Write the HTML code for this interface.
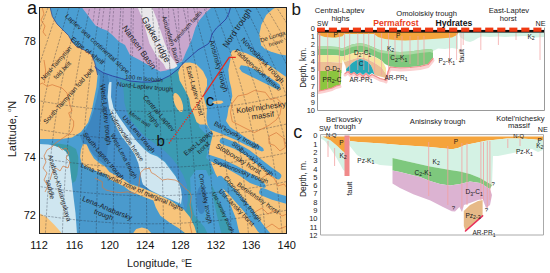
<!DOCTYPE html>
<html><head><meta charset="utf-8">
<style>
html,body{margin:0;padding:0;background:#fff;}
body{width:550px;height:273px;overflow:hidden;position:relative;font-family:"Liberation Sans",sans-serif;}
svg{position:absolute;left:0;top:0;}
text{font-family:"Liberation Sans",sans-serif;}
</style></head><body>
<svg width="550" height="273" viewBox="0 0 550 273" xmlns="http://www.w3.org/2000/svg">
<defs>
<clipPath id="mapclip"><rect x="39" y="7" width="248" height="227"/></clipPath>
</defs>
<g clip-path="url(#mapclip)">
<rect x="39" y="7" width="248" height="227" fill="#4a9ed2"/>
<path fill="#c9a7ce" d="M81.5,7.0 L212.0,7.0 L206.0,12.6 L199.4,20.2 L195.5,27.5 L192.0,38.8 L189.0,46.1 L186.1,52.0 L182.3,61.3 L176.3,64.3 L172.3,68.5 L166.2,70.4 L160.2,71.4 L152.1,67.3 L140.0,60.3 L130.0,55.0 L125.0,45.0 L119.0,41.7 L113.1,35.8 L107.3,30.7 L101.4,28.5 L95.5,25.5 L91.1,19.7 L86.7,13.8 Z" />
<path fill="#e9e7ea" d="M137.5,7.0 L152.0,7.0 L157.0,20.0 L164.9,43.5 L170.0,55.0 L175.0,62.0 L177.5,66.0 L174.0,68.5 L166.0,69.0 L163.6,64.0 L157.0,57.0 L149.5,43.5 L143.0,20.0 Z" />
<path fill="#f7c47b" d="M39.0,7.0 L49.8,7.0 L52.3,16.4 L57.0,24.0 L64.7,31.7 L68.5,35.5 L72.3,42.0 L76.0,46.0 L81.8,48.8 L87.5,51.7 L91.8,55.0 L94.7,62.6 L96.6,70.2 L97.6,75.0 L96.4,87.0 L94.0,99.0 L91.7,110.7 L88.1,122.6 L81.0,132.0 L72.0,137.5 L61.0,139.0 L39.0,139.0 Z" />
<path fill="#f7c47b" d="M277.0,7.0 L273.0,9.0 L266.2,15.0 L261.2,25.1 L259.2,35.2 L261.2,45.3 L265.0,49.0 L270.5,51.5 L279.3,54.3 L287.0,55.4 L287.0,7.0 Z" />
<path fill="#3d86c0" d="M94.5,67.0 L98.0,70.0 L103.3,73.0 L108.0,74.5 L109.0,80.0 L108.5,85.0 L107.6,97.0 L109.0,108.0 L112.0,117.0 L115.0,125.0 L119.0,135.0 L125.0,147.0 L133.0,155.0 L139.3,164.3 L143.7,176.0 L148.0,185.0 L152.0,192.0 L137.8,185.5 L130.2,182.5 L121.4,178.0 L112.6,172.5 L106.0,166.0 L100.0,161.0 L94.0,155.5 L89.6,149.6 L86.6,144.5 L83.0,143.8 L80.0,136.0 L86.0,129.0 L90.0,121.0 L93.5,110.7 L96.5,99.0 L99.0,87.0 L100.0,76.0 Z" />
<path fill="#4a9acd" d="M72.0,175.0 L80.0,162.0 L85.2,166.5 L92.6,169.5 L99.9,172.4 L105.0,174.0 L109.6,179.3 L124.3,186.6 L130.0,191.0 L144.0,196.9 L153.4,200.4 L155.8,207.5 L160.4,215.7 L169.8,222.7 L179.2,228.5 L186.2,234.0 L76.0,234.0 L75.0,213.0 L73.0,197.0 Z" />
<path fill="#cfe6f0" d="M39.0,144.0 L48.2,144.5 L55.5,146.0 L62.0,148.5 L66.5,152.0 L69.2,157.0 L70.1,165.0 L71.0,175.3 L73.5,197.0 L75.5,213.0 L77.0,234.0 L39.0,234.0 Z" />
<path fill="#3b9aa8" d="M50.0,143.5 L60.0,143.8 L70.0,145.5 L76.0,149.0 L78.3,157.0 L78.3,166.0 L77.3,175.0 L75.5,181.0 L72.5,183.0 L71.0,175.3 L70.1,165.0 L69.2,157.0 L66.5,152.0 L62.0,148.5 L55.5,146.0 Z" />
<path fill="#f7c47b" d="M39.0,213.0 L47.0,217.5 L54.5,225.0 L60.5,231.8 L62.0,234.0 L39.0,234.0 Z" />
<path fill="#3b9bb2" d="M116.0,77.5 L121.6,78.5 L130.0,81.0 L141.5,82.1 L151.0,82.0 L160.0,80.4 L169.9,75.5 L176.0,70.5 L181.0,66.0 L186.0,67.0 L192.0,80.0 L196.0,100.0 L199.0,127.0 L205.0,133.0 L212.0,137.0 L209.0,146.0 L207.0,152.0 L210.0,165.0 L214.0,175.0 L218.0,185.0 L222.0,195.0 L226.0,205.0 L230.0,215.0 L234.0,225.0 L238.0,234.0 L183.0,234.0 L184.8,209.3 L181.8,196.5 L180.4,184.8 L174.5,173.1 L165.7,161.4 L154.0,152.6 L145.0,147.4 L136.5,141.0 L128.8,130.8 L119.0,117.0 L113.5,108.0 L111.0,97.0 L111.5,84.0 Z" />
<path fill="#4590ca" d="M109.0,75.0 L116.0,77.5 L120.0,80.0 L123.0,86.0 L124.0,95.0 L124.3,102.6 L127.0,112.0 L130.2,120.0 L137.0,128.0 L145.0,136.5 L155.5,144.0 L160.0,147.5 L164.7,151.0 L172.0,158.3 L177.5,165.6 L183.0,174.8 L186.6,184.0 L187.5,190.0 L188.0,200.0 L186.0,212.0 L184.8,209.3 L181.8,196.5 L180.4,184.8 L174.5,173.1 L165.7,161.4 L154.0,152.6 L145.0,147.4 L136.5,141.0 L128.8,130.8 L119.0,117.0 L113.5,108.0 L111.0,97.0 Z" />
<path fill="#4591ca" d="M109.0,108.0 L110.5,129.0 L108.0,145.0 L106.5,159.0 L106.0,166.0 L109.6,172.0 L124.3,180.0 L130.0,184.0 L143.0,185.0 L142.0,181.7 L140.2,172.5 L138.3,163.3 L134.7,154.2 L128.3,145.0 L122.0,137.0 L117.0,128.0 L113.0,119.0 Z" />
<path fill="#cfe6f0" d="M109.5,82.0 L111.5,82.0 L111.0,97.0 L113.5,108.0 L119.0,117.0 L128.8,130.8 L136.5,141.0 L145.0,150.0 L150.0,153.7 L157.3,156.5 L164.7,162.0 L170.1,169.3 L175.6,176.6 L179.3,184.0 L181.1,190.0 L182.0,197.0 L181.0,204.0 L170.0,199.0 L160.0,195.0 L150.0,190.0 L143.0,184.4 L142.0,181.7 L140.2,172.5 L138.3,163.3 L134.7,154.2 L128.3,145.0 L122.0,137.0 L117.0,128.0 L113.0,119.0 L109.0,108.0 L107.6,97.0 L108.5,85.0 Z" />
<path fill="#f7c47b" d="M83.0,144.0 L86.7,144.6 L89.6,151.2 L94.0,158.5 L99.9,163.6 L105.0,166.5 L109.6,172.0 L124.3,180.0 L130.0,184.0 L144.0,188.7 L158.1,194.6 L172.2,201.6 L183.9,209.8 L189.7,216.8 L194.4,226.2 L196.7,234.0 L186.2,234.0 L179.2,228.5 L169.8,222.7 L160.4,215.7 L155.8,207.5 L153.4,200.4 L144.0,196.9 L130.0,191.0 L124.3,186.6 L109.6,179.3 L105.0,174.0 L99.9,172.4 L92.6,169.5 L85.2,166.5 L81.6,162.9 L80.1,157.0 L80.9,149.7 Z" />
<path fill="#f7c47b" d="M132.5,234.0 L136.2,228.9 L141.8,227.6 L147.4,228.9 L152.1,234.0 Z" />
<path fill="#f7c47b" d="M181.0,65.5 L185.0,62.7 L190.0,62.5 L196.0,64.1 L203.0,71.0 L207.0,79.2 L207.0,86.1 L204.5,92.0 L203.5,96.0 L207.0,99.0 L213.0,100.0 L218.0,106.0 L224.0,108.5 L229.0,106.0 L231.3,100.0 L232.3,96.3 L231.3,88.2 L229.3,80.2 L228.3,70.0 L230.3,60.0 L231.0,53.0 L232.5,50.5 L235.4,49.9 L246.4,53.2 L259.6,59.8 L272.7,67.5 L283.7,75.2 L287.0,77.4 L287.0,234.0 L240.0,234.0 L236.0,225.0 L232.0,215.0 L228.0,205.0 L224.0,195.0 L220.0,185.0 L216.0,175.0 L212.0,165.0 L208.5,155.0 L210.0,146.0 L212.0,138.0 L213.0,134.0 L209.8,129.5 L207.0,125.0 L205.0,124.5 L200.0,124.5 L196.5,122.0 L194.0,115.0 L190.6,106.7 L189.2,98.4 L185.1,90.2 L179.6,80.6 L178.2,72.3 Z" />
<ellipse cx="178.2" cy="102.5" rx="3.9" ry="10" transform="rotate(-20 178.2 102.5)" fill="#f7c47b"/>
<path fill="#4a9ed2" d="M239.3,68.3 L240.9,65.3 L246.0,66.0 L253.0,68.6 L266.2,75.2 L276.0,81.8 L279.5,84.5 L280.4,86.8 L278.5,89.5 L277.1,89.5 L268.4,85.0 L255.2,78.5 L242.0,71.9 Z" />
<path fill="#4a9ed2" d="M203.5,96.0 L207.0,98.0 L213.0,100.0 L224.0,100.0 L229.0,99.0 L231.0,100.0 L230.5,104.0 L228.5,108.0 L227.4,115.8 L226.0,121.0 L230.0,127.0 L236.0,131.0 L247.0,138.5 L258.0,144.5 L263.0,148.0 L264.0,150.5 L262.0,151.5 L258.0,150.0 L247.0,145.5 L236.0,140.0 L230.0,137.5 L222.0,134.0 L209.8,129.5 L207.6,125.0 L206.5,118.0 L207.0,108.0 L205.0,102.0 Z" />
<path fill="#f7c47b" d="M212.5,101.8 L218.0,100.6 L222.0,100.8 L223.5,102.2 L221.0,103.8 L216.0,104.0 L213.0,103.5 Z" />
<path d="M223.0,141.0 L236.0,146.0 L248.0,153.0 L260.0,162.5 L271.0,171.0 L278.0,176.0" fill="none" stroke="#4a9ed2" stroke-width="6.5" stroke-linecap="round" stroke-linejoin="round"/>
<path fill="#4a9ed2" d="M207.0,154.0 L222.0,159.0 L236.0,165.5 L248.0,172.0 L258.0,178.0 L265.0,184.0 L266.0,187.0 L264.0,188.0 L250.0,183.0 L240.0,176.0 L226.0,168.0 L210.0,161.0 L206.0,158.0 Z" />
<path d="M220.0,180.0 L233.0,193.0 L248.0,210.0 L261.0,229.0" fill="none" stroke="#4a9ed2" stroke-width="8" stroke-linecap="round" stroke-linejoin="round"/>
<path d="M263.0,192.0 L274.0,196.5 L290.0,201.0" fill="none" stroke="#4a9ed2" stroke-width="7.5" stroke-linecap="round" stroke-linejoin="round"/>
<path d="M258.0,224.0 L268.0,236.0" fill="none" stroke="#4a9ed2" stroke-width="7" stroke-linecap="round" stroke-linejoin="round"/>
<path d="M213.0,178.0 L219.0,190.0 L226.0,205.0 L232.0,220.0 L236.0,238.0" fill="none" stroke="#4a9ed2" stroke-width="8.5" stroke-linecap="round" stroke-linejoin="round"/>
<path fill="#4a9ed2" d="M190.1,178.0 L191.1,200.5 L194.2,215.0 L204.5,227.2 L208.6,236.0 L222.0,236.0 L216.8,215.0 L213.7,200.5 L210.6,180.0 L206.0,170.0 L196.0,170.0 Z" />
<ellipse cx="201.4" cy="200" rx="5" ry="14" fill="#3d86c0"/>
<g fill="none" stroke="#2a3040" stroke-width="0.55" stroke-dasharray="2.4,1.2" opacity="0.65"><path d="M-91.0,240.0 L-90.4,236.0 L-89.8,232.0 L-89.2,228.0 L-88.5,224.0 L-87.9,220.0 L-87.3,216.0 L-86.7,212.0 L-86.1,208.0 L-85.5,204.0 L-84.9,200.0 L-84.2,196.0 L-83.6,192.0 L-82.9,188.0 L-82.2,184.0 L-81.4,180.0 L-80.6,176.0 L-79.7,172.0 L-78.8,168.0 L-77.8,164.0 L-76.8,160.0 L-75.8,156.0 L-74.7,152.0 L-73.6,148.0 L-72.4,144.0 L-71.2,140.0 L-69.9,136.0 L-68.6,132.0 L-67.2,128.0 L-65.8,124.0 L-64.3,120.0 L-62.7,116.0 L-61.2,112.0 L-59.5,108.0 L-57.8,104.0 L-56.1,100.0 L-54.3,96.0 L-52.5,92.0 L-50.6,88.0 L-48.6,84.0 L-46.6,80.0 L-44.6,76.0 L-42.5,72.0 L-40.3,68.0 L-38.1,64.0 L-35.8,60.0 L-33.5,56.0 L-31.1,52.0 L-28.7,48.0 L-26.2,44.0 L-23.8,40.0 L-21.3,36.0 L-18.9,32.0 L-16.4,28.0 L-13.9,24.0 L-11.5,20.0 L-9.0,16.0 L-6.6,12.0 L-4.1,8.0 L-1.7,4.0 L0.8,0.0" /><path d="M-74.0,240.0 L-73.4,236.0 L-72.9,232.0 L-72.3,228.0 L-71.7,224.0 L-71.2,220.0 L-70.6,216.0 L-70.0,212.0 L-69.5,208.0 L-68.9,204.0 L-68.3,200.0 L-67.8,196.0 L-67.2,192.0 L-66.5,188.0 L-65.8,184.0 L-65.1,180.0 L-64.4,176.0 L-63.6,172.0 L-62.7,168.0 L-61.9,164.0 L-60.9,160.0 L-60.0,156.0 L-59.0,152.0 L-57.9,148.0 L-56.8,144.0 L-55.7,140.0 L-54.5,136.0 L-53.3,132.0 L-52.0,128.0 L-50.7,124.0 L-49.3,120.0 L-47.9,116.0 L-46.4,112.0 L-44.9,108.0 L-43.4,104.0 L-41.8,100.0 L-40.1,96.0 L-38.4,92.0 L-36.7,88.0 L-34.9,84.0 L-33.0,80.0 L-31.1,76.0 L-29.2,72.0 L-27.2,68.0 L-25.1,64.0 L-23.0,60.0 L-20.9,56.0 L-18.7,52.0 L-16.4,48.0 L-14.1,44.0 L-11.9,40.0 L-9.6,36.0 L-7.3,32.0 L-5.1,28.0 L-2.8,24.0 L-0.5,20.0 L1.7,16.0 L4.0,12.0 L6.3,8.0 L8.6,4.0 L10.8,0.0" /><path d="M-57.0,240.0 L-56.5,236.0 L-56.0,232.0 L-55.4,228.0 L-54.9,224.0 L-54.4,220.0 L-53.9,216.0 L-53.4,212.0 L-52.9,208.0 L-52.3,204.0 L-51.8,200.0 L-51.3,196.0 L-50.7,192.0 L-50.2,188.0 L-49.5,184.0 L-48.9,180.0 L-48.2,176.0 L-47.4,172.0 L-46.7,168.0 L-45.9,164.0 L-45.0,160.0 L-44.1,156.0 L-43.2,152.0 L-42.3,148.0 L-41.3,144.0 L-40.2,140.0 L-39.1,136.0 L-38.0,132.0 L-36.8,128.0 L-35.6,124.0 L-34.4,120.0 L-33.1,116.0 L-31.7,112.0 L-30.3,108.0 L-28.9,104.0 L-27.4,100.0 L-25.9,96.0 L-24.4,92.0 L-22.7,88.0 L-21.1,84.0 L-19.4,80.0 L-17.6,76.0 L-15.9,72.0 L-14.0,68.0 L-12.1,64.0 L-10.2,60.0 L-8.2,56.0 L-6.2,52.0 L-4.2,48.0 L-2.1,44.0 L0.0,40.0 L2.1,36.0 L4.2,32.0 L6.3,28.0 L8.4,24.0 L10.4,20.0 L12.5,16.0 L14.6,12.0 L16.7,8.0 L18.8,4.0 L20.9,0.0" /><path d="M-40.0,240.0 L-39.5,236.0 L-39.1,232.0 L-38.6,228.0 L-38.1,224.0 L-37.6,220.0 L-37.2,216.0 L-36.7,212.0 L-36.2,208.0 L-35.8,204.0 L-35.3,200.0 L-34.8,196.0 L-34.3,192.0 L-33.8,188.0 L-33.2,184.0 L-32.6,180.0 L-32.0,176.0 L-31.3,172.0 L-30.6,168.0 L-29.9,164.0 L-29.1,160.0 L-28.3,156.0 L-27.5,152.0 L-26.6,148.0 L-25.7,144.0 L-24.7,140.0 L-23.7,136.0 L-22.7,132.0 L-21.7,128.0 L-20.6,124.0 L-19.4,120.0 L-18.2,116.0 L-17.0,112.0 L-15.7,108.0 L-14.4,104.0 L-13.1,100.0 L-11.7,96.0 L-10.3,92.0 L-8.8,88.0 L-7.3,84.0 L-5.8,80.0 L-4.2,76.0 L-2.5,72.0 L-0.9,68.0 L0.8,64.0 L2.6,60.0 L4.4,56.0 L6.2,52.0 L8.1,48.0 L10.0,44.0 L11.9,40.0 L13.8,36.0 L15.7,32.0 L17.6,28.0 L19.5,24.0 L21.4,20.0 L23.3,16.0 L25.2,12.0 L27.1,8.0 L29.0,4.0 L30.9,0.0" /><path d="M-23.0,240.0 L-22.6,236.0 L-22.2,232.0 L-21.7,228.0 L-21.3,224.0 L-20.9,220.0 L-20.5,216.0 L-20.0,212.0 L-19.6,208.0 L-19.2,204.0 L-18.8,200.0 L-18.3,196.0 L-17.9,192.0 L-17.4,188.0 L-16.9,184.0 L-16.4,180.0 L-15.8,176.0 L-15.2,172.0 L-14.6,168.0 L-13.9,164.0 L-13.2,160.0 L-12.5,156.0 L-11.7,152.0 L-10.9,148.0 L-10.1,144.0 L-9.3,140.0 L-8.4,136.0 L-7.4,132.0 L-6.5,128.0 L-5.5,124.0 L-4.5,120.0 L-3.4,116.0 L-2.3,112.0 L-1.2,108.0 L0.0,104.0 L1.2,100.0 L2.5,96.0 L3.8,92.0 L5.1,88.0 L6.5,84.0 L7.8,80.0 L9.3,76.0 L10.8,72.0 L12.3,68.0 L13.8,64.0 L15.4,60.0 L17.0,56.0 L18.7,52.0 L20.4,48.0 L22.1,44.0 L23.8,40.0 L25.5,36.0 L27.2,32.0 L29.0,28.0 L30.7,24.0 L32.4,20.0 L34.1,16.0 L35.8,12.0 L37.5,8.0 L39.2,4.0 L41.0,0.0" /><path d="M-6.0,240.0 L-5.6,236.0 L-5.2,232.0 L-4.9,228.0 L-4.5,224.0 L-4.1,220.0 L-3.7,216.0 L-3.4,212.0 L-3.0,208.0 L-2.6,204.0 L-2.2,200.0 L-1.9,196.0 L-1.5,192.0 L-1.0,188.0 L-0.6,184.0 L-0.1,180.0 L0.4,176.0 L0.9,172.0 L1.5,168.0 L2.1,164.0 L2.7,160.0 L3.3,156.0 L4.0,152.0 L4.7,148.0 L5.5,144.0 L6.2,140.0 L7.0,136.0 L7.8,132.0 L8.7,128.0 L9.6,124.0 L10.5,120.0 L11.4,116.0 L12.4,112.0 L13.4,108.0 L14.5,104.0 L15.6,100.0 L16.7,96.0 L17.8,92.0 L19.0,88.0 L20.2,84.0 L21.5,80.0 L22.7,76.0 L24.1,72.0 L25.4,68.0 L26.8,64.0 L28.2,60.0 L29.7,56.0 L31.1,52.0 L32.6,48.0 L34.2,44.0 L35.7,40.0 L37.2,36.0 L38.8,32.0 L40.3,28.0 L41.8,24.0 L43.4,20.0 L44.9,16.0 L46.4,12.0 L47.9,8.0 L49.5,4.0 L51.0,0.0" /><path d="M11.0,240.0 L11.3,236.0 L11.7,232.0 L12.0,228.0 L12.3,224.0 L12.6,220.0 L13.0,216.0 L13.3,212.0 L13.6,208.0 L14.0,204.0 L14.3,200.0 L14.6,196.0 L15.0,192.0 L15.3,188.0 L15.7,184.0 L16.2,180.0 L16.6,176.0 L17.1,172.0 L17.6,168.0 L18.1,164.0 L18.6,160.0 L19.2,156.0 L19.8,152.0 L20.4,148.0 L21.0,144.0 L21.7,140.0 L22.4,136.0 L23.1,132.0 L23.9,128.0 L24.6,124.0 L25.5,120.0 L26.3,116.0 L27.1,112.0 L28.0,108.0 L29.0,104.0 L29.9,100.0 L30.9,96.0 L31.9,92.0 L32.9,88.0 L34.0,84.0 L35.1,80.0 L36.2,76.0 L37.4,72.0 L38.5,68.0 L39.8,64.0 L41.0,60.0 L42.3,56.0 L43.6,52.0 L44.9,48.0 L46.3,44.0 L47.6,40.0 L48.9,36.0 L50.3,32.0 L51.6,28.0 L53.0,24.0 L54.3,20.0 L55.7,16.0 L57.0,12.0 L58.4,8.0 L59.7,4.0 L61.0,0.0" /><path d="M28.0,240.0 L28.3,236.0 L28.6,232.0 L28.8,228.0 L29.1,224.0 L29.4,220.0 L29.7,216.0 L30.0,212.0 L30.3,208.0 L30.5,204.0 L30.8,200.0 L31.1,196.0 L31.4,192.0 L31.7,188.0 L32.1,184.0 L32.4,180.0 L32.8,176.0 L33.2,172.0 L33.6,168.0 L34.1,164.0 L34.5,160.0 L35.0,156.0 L35.5,152.0 L36.0,148.0 L36.6,144.0 L37.2,140.0 L37.8,136.0 L38.4,132.0 L39.0,128.0 L39.7,124.0 L40.4,120.0 L41.1,116.0 L41.9,112.0 L42.6,108.0 L43.4,104.0 L44.2,100.0 L45.1,96.0 L46.0,92.0 L46.8,88.0 L47.8,84.0 L48.7,80.0 L49.7,76.0 L50.7,72.0 L51.7,68.0 L52.7,64.0 L53.8,60.0 L54.9,56.0 L56.0,52.0 L57.2,48.0 L58.3,44.0 L59.5,40.0 L60.7,36.0 L61.8,32.0 L63.0,28.0 L64.1,24.0 L65.3,20.0 L66.5,16.0 L67.6,12.0 L68.8,8.0 L69.9,4.0 L71.1,0.0" /><path d="M45.0,240.0 L45.2,236.0 L45.5,232.0 L45.7,228.0 L45.9,224.0 L46.2,220.0 L46.4,216.0 L46.6,212.0 L46.9,208.0 L47.1,204.0 L47.3,200.0 L47.6,196.0 L47.8,192.0 L48.1,188.0 L48.4,184.0 L48.7,180.0 L49.0,176.0 L49.3,172.0 L49.7,168.0 L50.0,164.0 L50.4,160.0 L50.8,156.0 L51.3,152.0 L51.7,148.0 L52.2,144.0 L52.7,140.0 L53.2,136.0 L53.7,132.0 L54.2,128.0 L54.8,124.0 L55.4,120.0 L56.0,116.0 L56.6,112.0 L57.2,108.0 L57.9,104.0 L58.6,100.0 L59.3,96.0 L60.0,92.0 L60.8,88.0 L61.5,84.0 L62.3,80.0 L63.1,76.0 L64.0,72.0 L64.8,68.0 L65.7,64.0 L66.6,60.0 L67.5,56.0 L68.5,52.0 L69.4,48.0 L70.4,44.0 L71.4,40.0 L72.4,36.0 L73.3,32.0 L74.3,28.0 L75.3,24.0 L76.3,20.0 L77.2,16.0 L78.2,12.0 L79.2,8.0 L80.2,4.0 L81.1,0.0" /><path d="M62.0,240.0 L62.2,236.0 L62.4,232.0 L62.6,228.0 L62.7,224.0 L62.9,220.0 L63.1,216.0 L63.3,212.0 L63.5,208.0 L63.7,204.0 L63.9,200.0 L64.0,196.0 L64.2,192.0 L64.5,188.0 L64.7,184.0 L64.9,180.0 L65.2,176.0 L65.4,172.0 L65.7,168.0 L66.0,164.0 L66.3,160.0 L66.7,156.0 L67.0,152.0 L67.4,148.0 L67.7,144.0 L68.1,140.0 L68.5,136.0 L69.0,132.0 L69.4,128.0 L69.8,124.0 L70.3,120.0 L70.8,116.0 L71.3,112.0 L71.8,108.0 L72.4,104.0 L72.9,100.0 L73.5,96.0 L74.1,92.0 L74.7,88.0 L75.3,84.0 L75.9,80.0 L76.6,76.0 L77.3,72.0 L78.0,68.0 L78.7,64.0 L79.4,60.0 L80.2,56.0 L80.9,52.0 L81.7,48.0 L82.5,44.0 L83.3,40.0 L84.1,36.0 L84.9,32.0 L85.7,28.0 L86.4,24.0 L87.2,20.0 L88.0,16.0 L88.8,12.0 L89.6,8.0 L90.4,4.0 L91.2,0.0" /><path d="M79.0,240.0 L79.1,236.0 L79.3,232.0 L79.4,228.0 L79.6,224.0 L79.7,220.0 L79.8,216.0 L80.0,212.0 L80.1,208.0 L80.2,204.0 L80.4,200.0 L80.5,196.0 L80.7,192.0 L80.8,188.0 L81.0,184.0 L81.2,180.0 L81.4,176.0 L81.6,172.0 L81.8,168.0 L82.0,164.0 L82.3,160.0 L82.5,156.0 L82.8,152.0 L83.0,148.0 L83.3,144.0 L83.6,140.0 L83.9,136.0 L84.2,132.0 L84.6,128.0 L84.9,124.0 L85.3,120.0 L85.6,116.0 L86.0,112.0 L86.4,108.0 L86.8,104.0 L87.2,100.0 L87.7,96.0 L88.1,92.0 L88.6,88.0 L89.1,84.0 L89.6,80.0 L90.1,76.0 L90.6,72.0 L91.1,68.0 L91.7,64.0 L92.2,60.0 L92.8,56.0 L93.4,52.0 L94.0,48.0 L94.6,44.0 L95.2,40.0 L95.8,36.0 L96.4,32.0 L97.0,28.0 L97.6,24.0 L98.2,20.0 L98.8,16.0 L99.4,12.0 L100.0,8.0 L100.6,4.0 L101.2,0.0" /><path d="M96.0,240.0 L96.1,236.0 L96.2,232.0 L96.3,228.0 L96.4,224.0 L96.5,220.0 L96.5,216.0 L96.6,212.0 L96.7,208.0 L96.8,204.0 L96.9,200.0 L97.0,196.0 L97.1,192.0 L97.2,188.0 L97.3,184.0 L97.4,180.0 L97.6,176.0 L97.7,172.0 L97.8,168.0 L98.0,164.0 L98.2,160.0 L98.3,156.0 L98.5,152.0 L98.7,148.0 L98.9,144.0 L99.1,140.0 L99.3,136.0 L99.5,132.0 L99.7,128.0 L100.0,124.0 L100.2,120.0 L100.5,116.0 L100.7,112.0 L101.0,108.0 L101.3,104.0 L101.6,100.0 L101.9,96.0 L102.2,92.0 L102.5,88.0 L102.8,84.0 L103.2,80.0 L103.5,76.0 L103.9,72.0 L104.3,68.0 L104.6,64.0 L105.0,60.0 L105.4,56.0 L105.8,52.0 L106.2,48.0 L106.7,44.0 L107.1,40.0 L107.5,36.0 L107.9,32.0 L108.3,28.0 L108.7,24.0 L109.2,20.0 L109.6,16.0 L110.0,12.0 L110.4,8.0 L110.8,4.0 L111.3,0.0" /><path d="M113.0,240.0 L113.0,236.0 L113.1,232.0 L113.1,228.0 L113.2,224.0 L113.2,220.0 L113.3,216.0 L113.3,212.0 L113.4,208.0 L113.4,204.0 L113.4,200.0 L113.5,196.0 L113.5,192.0 L113.6,188.0 L113.6,184.0 L113.7,180.0 L113.8,176.0 L113.8,172.0 L113.9,168.0 L114.0,164.0 L114.1,160.0 L114.2,156.0 L114.3,152.0 L114.3,148.0 L114.5,144.0 L114.6,140.0 L114.7,136.0 L114.8,132.0 L114.9,128.0 L115.0,124.0 L115.2,120.0 L115.3,116.0 L115.5,112.0 L115.6,108.0 L115.8,104.0 L115.9,100.0 L116.1,96.0 L116.3,92.0 L116.4,88.0 L116.6,84.0 L116.8,80.0 L117.0,76.0 L117.2,72.0 L117.4,68.0 L117.6,64.0 L117.8,60.0 L118.0,56.0 L118.3,52.0 L118.5,48.0 L118.7,44.0 L119.0,40.0 L119.2,36.0 L119.4,32.0 L119.7,28.0 L119.9,24.0 L120.1,20.0 L120.4,16.0 L120.6,12.0 L120.8,8.0 L121.1,4.0 L121.3,0.0" /><path d="M130.0,240.0 L130.0,236.0 L130.0,232.0 L130.0,228.0 L130.0,224.0 L130.0,220.0 L130.0,216.0 L130.0,212.0 L130.0,208.0 L130.0,204.0 L130.0,200.0 L130.0,196.0 L130.0,192.0 L130.0,188.0 L130.0,184.0 L130.0,180.0 L130.0,176.0 L130.0,172.0 L130.0,168.0 L130.0,164.0 L130.0,160.0 L130.0,156.0 L130.0,152.0 L130.0,148.0 L130.0,144.0 L130.0,140.0 L130.1,136.0 L130.1,132.0 L130.1,128.0 L130.1,124.0 L130.1,120.0 L130.2,116.0 L130.2,112.0 L130.2,108.0 L130.2,104.0 L130.3,100.0 L130.3,96.0 L130.3,92.0 L130.3,88.0 L130.4,84.0 L130.4,80.0 L130.5,76.0 L130.5,72.0 L130.5,68.0 L130.6,64.0 L130.6,60.0 L130.7,56.0 L130.7,52.0 L130.8,48.0 L130.8,44.0 L130.9,40.0 L130.9,36.0 L131.0,32.0 L131.0,28.0 L131.1,24.0 L131.1,20.0 L131.2,16.0 L131.2,12.0 L131.3,8.0 L131.3,4.0 L131.3,0.0" /><path d="M147.0,240.0 L146.9,236.0 L146.9,232.0 L146.8,228.0 L146.8,224.0 L146.7,220.0 L146.7,216.0 L146.6,212.0 L146.6,208.0 L146.5,204.0 L146.5,200.0 L146.4,196.0 L146.4,192.0 L146.3,188.0 L146.3,184.0 L146.2,180.0 L146.2,176.0 L146.1,172.0 L146.0,168.0 L146.0,164.0 L145.9,160.0 L145.8,156.0 L145.7,152.0 L145.7,148.0 L145.6,144.0 L145.5,140.0 L145.4,136.0 L145.3,132.0 L145.3,128.0 L145.2,124.0 L145.1,120.0 L145.0,116.0 L144.9,112.0 L144.8,108.0 L144.7,104.0 L144.6,100.0 L144.5,96.0 L144.4,92.0 L144.3,88.0 L144.2,84.0 L144.0,80.0 L143.9,76.0 L143.8,72.0 L143.7,68.0 L143.6,64.0 L143.4,60.0 L143.3,56.0 L143.2,52.0 L143.0,48.0 L142.9,44.0 L142.8,40.0 L142.6,36.0 L142.5,32.0 L142.3,28.0 L142.2,24.0 L142.1,20.0 L141.9,16.0 L141.8,12.0 L141.7,8.0 L141.5,4.0 L141.4,0.0" /><path d="M164.0,240.0 L163.9,236.0 L163.8,232.0 L163.7,228.0 L163.6,224.0 L163.5,220.0 L163.4,216.0 L163.3,212.0 L163.2,208.0 L163.1,204.0 L163.0,200.0 L162.9,196.0 L162.8,192.0 L162.7,188.0 L162.6,184.0 L162.5,180.0 L162.3,176.0 L162.2,172.0 L162.1,168.0 L161.9,164.0 L161.8,160.0 L161.7,156.0 L161.5,152.0 L161.3,148.0 L161.2,144.0 L161.0,140.0 L160.8,136.0 L160.6,132.0 L160.4,128.0 L160.2,124.0 L160.0,120.0 L159.8,116.0 L159.6,112.0 L159.4,108.0 L159.2,104.0 L158.9,100.0 L158.7,96.0 L158.4,92.0 L158.2,88.0 L157.9,84.0 L157.7,80.0 L157.4,76.0 L157.1,72.0 L156.8,68.0 L156.5,64.0 L156.2,60.0 L155.9,56.0 L155.6,52.0 L155.3,48.0 L155.0,44.0 L154.6,40.0 L154.3,36.0 L154.0,32.0 L153.7,28.0 L153.4,24.0 L153.0,20.0 L152.7,16.0 L152.4,12.0 L152.1,8.0 L151.8,4.0 L151.4,0.0" /><path d="M181.0,240.0 L180.9,236.0 L180.7,232.0 L180.6,228.0 L180.4,224.0 L180.3,220.0 L180.1,216.0 L180.0,212.0 L179.8,208.0 L179.7,204.0 L179.5,200.0 L179.4,196.0 L179.2,192.0 L179.1,188.0 L178.9,184.0 L178.7,180.0 L178.5,176.0 L178.3,172.0 L178.1,168.0 L177.9,164.0 L177.7,160.0 L177.5,156.0 L177.2,152.0 L177.0,148.0 L176.7,144.0 L176.5,140.0 L176.2,136.0 L175.9,132.0 L175.6,128.0 L175.3,124.0 L175.0,120.0 L174.7,116.0 L174.3,112.0 L174.0,108.0 L173.6,104.0 L173.3,100.0 L172.9,96.0 L172.5,92.0 L172.1,88.0 L171.7,84.0 L171.3,80.0 L170.8,76.0 L170.4,72.0 L170.0,68.0 L169.5,64.0 L169.0,60.0 L168.5,56.0 L168.1,52.0 L167.6,48.0 L167.1,44.0 L166.5,40.0 L166.0,36.0 L165.5,32.0 L165.0,28.0 L164.5,24.0 L164.0,20.0 L163.5,16.0 L163.0,12.0 L162.5,8.0 L162.0,4.0 L161.5,0.0" /><path d="M198.0,240.0 L197.8,236.0 L197.6,232.0 L197.4,228.0 L197.2,224.0 L197.0,220.0 L196.8,216.0 L196.6,212.0 L196.5,208.0 L196.3,204.0 L196.1,200.0 L195.9,196.0 L195.7,192.0 L195.5,188.0 L195.2,184.0 L195.0,180.0 L194.7,176.0 L194.5,172.0 L194.2,168.0 L193.9,164.0 L193.6,160.0 L193.3,156.0 L193.0,152.0 L192.7,148.0 L192.3,144.0 L191.9,140.0 L191.6,136.0 L191.2,132.0 L190.8,128.0 L190.4,124.0 L189.9,120.0 L189.5,116.0 L189.0,112.0 L188.6,108.0 L188.1,104.0 L187.6,100.0 L187.1,96.0 L186.6,92.0 L186.0,88.0 L185.5,84.0 L184.9,80.0 L184.3,76.0 L183.7,72.0 L183.1,68.0 L182.5,64.0 L181.8,60.0 L181.2,56.0 L180.5,52.0 L179.8,48.0 L179.1,44.0 L178.4,40.0 L177.7,36.0 L177.1,32.0 L176.4,28.0 L175.7,24.0 L175.0,20.0 L174.3,16.0 L173.6,12.0 L172.9,8.0 L172.2,4.0 L171.5,0.0" /><path d="M215.0,240.0 L214.8,236.0 L214.5,232.0 L214.3,228.0 L214.0,224.0 L213.8,220.0 L213.6,216.0 L213.3,212.0 L213.1,208.0 L212.8,204.0 L212.6,200.0 L212.3,196.0 L212.1,192.0 L211.8,188.0 L211.5,184.0 L211.2,180.0 L210.9,176.0 L210.6,172.0 L210.3,168.0 L209.9,164.0 L209.5,160.0 L209.1,156.0 L208.7,152.0 L208.3,148.0 L207.9,144.0 L207.4,140.0 L207.0,136.0 L206.5,132.0 L206.0,128.0 L205.4,124.0 L204.9,120.0 L204.3,116.0 L203.8,112.0 L203.2,108.0 L202.6,104.0 L201.9,100.0 L201.3,96.0 L200.6,92.0 L199.9,88.0 L199.2,84.0 L198.5,80.0 L197.8,76.0 L197.0,72.0 L196.2,68.0 L195.4,64.0 L194.6,60.0 L193.8,56.0 L193.0,52.0 L192.1,48.0 L191.2,44.0 L190.3,40.0 L189.5,36.0 L188.6,32.0 L187.7,28.0 L186.8,24.0 L185.9,20.0 L185.1,16.0 L184.2,12.0 L183.3,8.0 L182.4,4.0 L181.6,0.0" /><path d="M232.0,240.0 L231.7,236.0 L231.4,232.0 L231.1,228.0 L230.8,224.0 L230.6,220.0 L230.3,216.0 L230.0,212.0 L229.7,208.0 L229.4,204.0 L229.1,200.0 L228.8,196.0 L228.5,192.0 L228.2,188.0 L227.9,184.0 L227.5,180.0 L227.1,176.0 L226.7,172.0 L226.3,168.0 L225.9,164.0 L225.4,160.0 L225.0,156.0 L224.5,152.0 L224.0,148.0 L223.4,144.0 L222.9,140.0 L222.3,136.0 L221.7,132.0 L221.1,128.0 L220.5,124.0 L219.9,120.0 L219.2,116.0 L218.5,112.0 L217.8,108.0 L217.0,104.0 L216.3,100.0 L215.5,96.0 L214.7,92.0 L213.9,88.0 L213.0,84.0 L212.1,80.0 L211.2,76.0 L210.3,72.0 L209.4,68.0 L208.4,64.0 L207.4,60.0 L206.4,56.0 L205.4,52.0 L204.4,48.0 L203.3,44.0 L202.2,40.0 L201.2,36.0 L200.1,32.0 L199.0,28.0 L198.0,24.0 L196.9,20.0 L195.9,16.0 L194.8,12.0 L193.7,8.0 L192.7,4.0 L191.6,0.0" /><path d="M249.0,240.0 L248.7,236.0 L248.3,232.0 L248.0,228.0 L247.7,224.0 L247.3,220.0 L247.0,216.0 L246.6,212.0 L246.3,208.0 L246.0,204.0 L245.6,200.0 L245.3,196.0 L244.9,192.0 L244.6,188.0 L244.2,184.0 L243.8,180.0 L243.3,176.0 L242.9,172.0 L242.4,168.0 L241.9,164.0 L241.4,160.0 L240.8,156.0 L240.2,152.0 L239.6,148.0 L239.0,144.0 L238.4,140.0 L237.7,136.0 L237.0,132.0 L236.3,128.0 L235.6,124.0 L234.8,120.0 L234.0,116.0 L233.2,112.0 L232.4,108.0 L231.5,104.0 L230.6,100.0 L229.7,96.0 L228.7,92.0 L227.8,88.0 L226.8,84.0 L225.8,80.0 L224.7,76.0 L223.6,72.0 L222.5,68.0 L221.4,64.0 L220.2,60.0 L219.1,56.0 L217.8,52.0 L216.6,48.0 L215.4,44.0 L214.1,40.0 L212.9,36.0 L211.6,32.0 L210.4,28.0 L209.1,24.0 L207.9,20.0 L206.6,16.0 L205.4,12.0 L204.1,8.0 L202.9,4.0 L201.7,0.0" /><path d="M266.0,240.0 L265.6,236.0 L265.2,232.0 L264.8,228.0 L264.5,224.0 L264.1,220.0 L263.7,216.0 L263.3,212.0 L262.9,208.0 L262.5,204.0 L262.2,200.0 L261.8,196.0 L261.4,192.0 L260.9,188.0 L260.5,184.0 L260.0,180.0 L259.5,176.0 L259.0,172.0 L258.4,168.0 L257.9,164.0 L257.3,160.0 L256.6,156.0 L256.0,152.0 L255.3,148.0 L254.6,144.0 L253.9,140.0 L253.1,136.0 L252.3,132.0 L251.5,128.0 L250.6,124.0 L249.8,120.0 L248.9,116.0 L247.9,112.0 L247.0,108.0 L246.0,104.0 L244.9,100.0 L243.9,96.0 L242.8,92.0 L241.7,88.0 L240.5,84.0 L239.4,80.0 L238.2,76.0 L236.9,72.0 L235.7,68.0 L234.4,64.0 L233.0,60.0 L231.7,56.0 L230.3,52.0 L228.9,48.0 L227.4,44.0 L226.0,40.0 L224.6,36.0 L223.2,32.0 L221.7,28.0 L220.3,24.0 L218.9,20.0 L217.4,16.0 L216.0,12.0 L214.6,8.0 L213.1,4.0 L211.7,0.0" /><path d="M283.0,240.0 L282.6,236.0 L282.1,232.0 L281.7,228.0 L281.3,224.0 L280.8,220.0 L280.4,216.0 L280.0,212.0 L279.6,208.0 L279.1,204.0 L278.7,200.0 L278.3,196.0 L277.8,192.0 L277.3,188.0 L276.8,184.0 L276.3,180.0 L275.7,176.0 L275.1,172.0 L274.5,168.0 L273.8,164.0 L273.2,160.0 L272.5,156.0 L271.7,152.0 L271.0,148.0 L270.2,144.0 L269.3,140.0 L268.5,136.0 L267.6,132.0 L266.7,128.0 L265.7,124.0 L264.7,120.0 L263.7,116.0 L262.6,112.0 L261.6,108.0 L260.4,104.0 L259.3,100.0 L258.1,96.0 L256.9,92.0 L255.6,88.0 L254.3,84.0 L253.0,80.0 L251.6,76.0 L250.2,72.0 L248.8,68.0 L247.3,64.0 L245.8,60.0 L244.3,56.0 L242.7,52.0 L241.1,48.0 L239.5,44.0 L237.9,40.0 L236.3,36.0 L234.7,32.0 L233.1,28.0 L231.4,24.0 L229.8,20.0 L228.2,16.0 L226.6,12.0 L225.0,8.0 L223.4,4.0 L221.7,0.0" /><path d="M300.0,240.0 L299.5,236.0 L299.0,232.0 L298.6,228.0 L298.1,224.0 L297.6,220.0 L297.1,216.0 L296.7,212.0 L296.2,208.0 L295.7,204.0 L295.2,200.0 L294.7,196.0 L294.2,192.0 L293.7,188.0 L293.1,184.0 L292.5,180.0 L291.9,176.0 L291.2,172.0 L290.6,168.0 L289.8,164.0 L289.1,160.0 L288.3,156.0 L287.5,152.0 L286.6,148.0 L285.7,144.0 L284.8,140.0 L283.9,136.0 L282.9,132.0 L281.8,128.0 L280.8,124.0 L279.7,120.0 L278.5,116.0 L277.4,112.0 L276.1,108.0 L274.9,104.0 L273.6,100.0 L272.3,96.0 L270.9,92.0 L269.5,88.0 L268.1,84.0 L266.6,80.0 L265.1,76.0 L263.5,72.0 L261.9,68.0 L260.3,64.0 L258.6,60.0 L256.9,56.0 L255.2,52.0 L253.4,48.0 L251.6,44.0 L249.8,40.0 L248.0,36.0 L246.2,32.0 L244.4,28.0 L242.6,24.0 L240.8,20.0 L239.0,16.0 L237.2,12.0 L235.4,8.0 L233.6,4.0 L231.8,0.0" /><path d="M317.0,240.0 L316.5,236.0 L315.9,232.0 L315.4,228.0 L314.9,224.0 L314.4,220.0 L313.8,216.0 L313.3,212.0 L312.8,208.0 L312.3,204.0 L311.7,200.0 L311.2,196.0 L310.7,192.0 L310.1,188.0 L309.4,184.0 L308.8,180.0 L308.1,176.0 L307.4,172.0 L306.6,168.0 L305.8,164.0 L305.0,160.0 L304.1,156.0 L303.2,152.0 L302.3,148.0 L301.3,144.0 L300.3,140.0 L299.2,136.0 L298.1,132.0 L297.0,128.0 L295.8,124.0 L294.6,120.0 L293.4,116.0 L292.1,112.0 L290.7,108.0 L289.4,104.0 L287.9,100.0 L286.5,96.0 L285.0,92.0 L283.4,88.0 L281.9,84.0 L280.2,80.0 L278.6,76.0 L276.8,72.0 L275.1,68.0 L273.3,64.0 L271.4,60.0 L269.6,56.0 L267.6,52.0 L265.7,48.0 L263.7,44.0 L261.7,40.0 L259.7,36.0 L257.7,32.0 L255.7,28.0 L253.7,24.0 L251.8,20.0 L249.8,16.0 L247.8,12.0 L245.8,8.0 L243.8,4.0 L241.8,0.0" /><path d="M334.0,240.0 L333.4,236.0 L332.9,232.0 L332.3,228.0 L331.7,224.0 L331.1,220.0 L330.6,216.0 L330.0,212.0 L329.4,208.0 L328.8,204.0 L328.3,200.0 L327.7,196.0 L327.1,192.0 L326.4,188.0 L325.8,184.0 L325.0,180.0 L324.3,176.0 L323.5,172.0 L322.7,168.0 L321.8,164.0 L320.9,160.0 L320.0,156.0 L319.0,152.0 L317.9,148.0 L316.9,144.0 L315.8,140.0 L314.6,136.0 L313.4,132.0 L312.2,128.0 L310.9,124.0 L309.6,120.0 L308.2,116.0 L306.8,112.0 L305.3,108.0 L303.8,104.0 L302.3,100.0 L300.7,96.0 L299.0,92.0 L297.4,88.0 L295.6,84.0 L293.8,80.0 L292.0,76.0 L290.1,72.0 L288.2,68.0 L286.3,64.0 L284.3,60.0 L282.2,56.0 L280.1,52.0 L277.9,48.0 L275.8,44.0 L273.6,40.0 L271.4,36.0 L269.2,32.0 L267.1,28.0 L264.9,24.0 L262.7,20.0 L260.6,16.0 L258.4,12.0 L256.2,8.0 L254.0,4.0 L251.9,0.0" /><path d="M351.0,240.0 L350.4,236.0 L349.8,232.0 L349.1,228.0 L348.5,224.0 L347.9,220.0 L347.3,216.0 L346.7,212.0 L346.0,208.0 L345.4,204.0 L344.8,200.0 L344.2,196.0 L343.5,192.0 L342.8,188.0 L342.1,184.0 L341.3,180.0 L340.5,176.0 L339.6,172.0 L338.7,168.0 L337.8,164.0 L336.8,160.0 L335.8,156.0 L334.7,152.0 L333.6,148.0 L332.4,144.0 L331.2,140.0 L330.0,136.0 L328.7,132.0 L327.4,128.0 L326.0,124.0 L324.5,120.0 L323.0,116.0 L321.5,112.0 L319.9,108.0 L318.3,104.0 L316.6,100.0 L314.9,96.0 L313.1,92.0 L311.3,88.0 L309.4,84.0 L307.5,80.0 L305.5,76.0 L303.5,72.0 L301.4,68.0 L299.2,64.0 L297.1,60.0 L294.8,56.0 L292.5,52.0 L290.2,48.0 L287.8,44.0 L285.5,40.0 L283.1,36.0 L280.8,32.0 L278.4,28.0 L276.1,24.0 L273.7,20.0 L271.3,16.0 L269.0,12.0 L266.6,8.0 L264.3,4.0 L261.9,0.0" /><path d="M368.0,240.0 L367.3,236.0 L366.7,232.0 L366.0,228.0 L365.3,224.0 L364.7,220.0 L364.0,216.0 L363.3,212.0 L362.7,208.0 L362.0,204.0 L361.3,200.0 L360.6,196.0 L359.9,192.0 L359.2,188.0 L358.4,184.0 L357.6,180.0 L356.7,176.0 L355.8,172.0 L354.8,168.0 L353.8,164.0 L352.7,160.0 L351.6,156.0 L350.5,152.0 L349.3,148.0 L348.0,144.0 L346.7,140.0 L345.4,136.0 L344.0,132.0 L342.5,128.0 L341.0,124.0 L339.5,120.0 L337.9,116.0 L336.2,112.0 L334.5,108.0 L332.8,104.0 L331.0,100.0 L329.1,96.0 L327.2,92.0 L325.2,88.0 L323.2,84.0 L321.1,80.0 L318.9,76.0 L316.8,72.0 L314.5,68.0 L312.2,64.0 L309.9,60.0 L307.4,56.0 L305.0,52.0 L302.5,48.0 L299.9,44.0 L297.4,40.0 L294.8,36.0 L292.3,32.0 L289.8,28.0 L287.2,24.0 L284.7,20.0 L282.1,16.0 L279.6,12.0 L277.0,8.0 L274.5,4.0 L272.0,0.0" /><path d="M30,98.9 L36,100.1 L42,101.3 L48,102.4 L54,103.4 L60,104.4 L66,105.3 L72,106.1 L78,106.9 L84,107.6 L90,108.3 L96,108.9 L102,109.4 L108,109.9 L114,110.3 L120,110.6 L126,110.9 L132,111.1 L138,111.3 L144,111.4 L150,111.4 L156,111.4 L162,111.3 L168,111.1 L174,110.9 L180,110.6 L186,110.3 L192,109.9 L198,109.4 L204,108.9 L210,108.3 L216,107.6 L222,106.9 L228,106.1 L234,105.3 L240,104.4 L246,103.4 L252,102.4 L258,101.3 L264,100.1 L270,98.9 L276,97.6 L282,96.2 L288,94.8 L294,93.3 L300,91.7" /><path d="M30,127.6 L36,128.7 L42,129.9 L48,130.9 L54,131.9 L60,132.8 L66,133.7 L72,134.5 L78,135.2 L84,135.9 L90,136.5 L96,137.1 L102,137.6 L108,138.1 L114,138.4 L120,138.8 L126,139.0 L132,139.2 L138,139.4 L144,139.5 L150,139.5 L156,139.5 L162,139.4 L168,139.2 L174,139.0 L180,138.8 L186,138.4 L192,138.1 L198,137.6 L204,137.1 L210,136.5 L216,135.9 L222,135.2 L228,134.5 L234,133.7 L240,132.8 L246,131.9 L252,130.9 L258,129.9 L264,128.7 L270,127.6 L276,126.3 L282,125.0 L288,123.7 L294,122.2 L300,120.8" /><path d="M30,156.2 L36,157.3 L42,158.4 L48,159.4 L54,160.3 L60,161.2 L66,162.0 L72,162.8 L78,163.5 L84,164.2 L90,164.8 L96,165.3 L102,165.8 L108,166.2 L114,166.6 L120,166.9 L126,167.1 L132,167.3 L138,167.5 L144,167.6 L150,167.6 L156,167.6 L162,167.5 L168,167.3 L174,167.1 L180,166.9 L186,166.6 L192,166.2 L198,165.8 L204,165.3 L210,164.8 L216,164.2 L222,163.5 L228,162.8 L234,162.0 L240,161.2 L246,160.3 L252,159.4 L258,158.4 L264,157.3 L270,156.2 L276,155.0 L282,153.8 L288,152.5 L294,151.1 L300,149.7" /><path d="M30,184.8 L36,185.9 L42,186.9 L48,187.8 L54,188.7 L60,189.6 L66,190.4 L72,191.1 L78,191.8 L84,192.4 L90,193.0 L96,193.5 L102,194.0 L108,194.4 L114,194.7 L120,195.0 L126,195.3 L132,195.5 L138,195.6 L144,195.7 L150,195.7 L156,195.7 L162,195.6 L168,195.5 L174,195.3 L180,195.0 L186,194.7 L192,194.4 L198,194.0 L204,193.5 L210,193.0 L216,192.4 L222,191.8 L228,191.1 L234,190.4 L240,189.6 L246,188.7 L252,187.8 L258,186.9 L264,185.9 L270,184.8 L276,183.7 L282,182.5 L288,181.2 L294,179.9 L300,178.6" /><path d="M30,213.3 L36,214.4 L42,215.3 L48,216.3 L54,217.1 L60,217.9 L66,218.7 L72,219.4 L78,220.1 L84,220.7 L90,221.2 L96,221.7 L102,222.1 L108,222.5 L114,222.9 L120,223.2 L126,223.4 L132,223.6 L138,223.7 L144,223.8 L150,223.8 L156,223.8 L162,223.7 L168,223.6 L174,223.4 L180,223.2 L186,222.9 L192,222.5 L198,222.1 L204,221.7 L210,221.2 L216,220.7 L222,220.1 L228,219.4 L234,218.7 L240,217.9 L246,217.1 L252,216.3 L258,215.3 L264,214.4 L270,213.3 L276,212.3 L282,211.1 L288,209.9 L294,208.7 L300,207.4" /><path d="M30,241.9 L36,242.8 L42,243.8 L48,244.7 L54,245.5 L60,246.3 L66,247.0 L72,247.7 L78,248.3 L84,248.9 L90,249.4 L96,249.9 L102,250.3 L108,250.7 L114,251.0 L120,251.3 L126,251.5 L132,251.7 L138,251.8 L144,251.9 L150,251.9 L156,251.9 L162,251.8 L168,251.7 L174,251.5 L180,251.3 L186,251.0 L192,250.7 L198,250.3 L204,249.9 L210,249.4 L216,248.9 L222,248.3 L228,247.7 L234,247.0 L240,246.3 L246,245.5 L252,244.7 L258,243.8 L264,242.8 L270,241.9 L276,240.8 L282,239.7 L288,238.6 L294,237.4 L300,236.1" /></g>
<clipPath id="pclip"><path d="M81.5,7 L212,7 L206,12.6 L199.4,20.2 L195.5,27.5 L192,38.8 L189,46.1 L186.1,52 L182.3,61.3 L176.3,64.3 L172.3,68.5 L166.2,70.4 L160.2,71.4 L152.1,67.3 L140,60.3 L130,55 L125,45 L119,41.7 L113.1,35.8 L107.3,30.7 L101.4,28.5 L95.5,25.5 L91.1,19.7 L86.7,13.8 Z"/></clipPath><g clip-path="url(#pclip)" fill="none" stroke="#5a4a66" stroke-width="0.6" stroke-dasharray="2.5,1.5" opacity="0.7"><path d="M95,7 L85.9,77"/><path d="M104.2,7 L95.5,77"/><path d="M113.9,7 L108.7,77"/><path d="M123.3,7 L120.7,77"/><path d="M133.5,7 L132.1,77"/><path d="M159,7 L159.0,77"/><path d="M168.5,7 L169.9,77"/><path d="M178,7 L180.8,77"/><path d="M187.5,7 L191.7,77"/><path d="M197,7 L202.6,77"/><path d="M206,7 L213.0,77"/></g>
<path d="M266,228 L272,224 L279,229 L287,226" stroke="#d9783c" stroke-width="0.7" fill="none" stroke-linejoin="round"/>
<path d="M255,212 L262,208 L268,214 L275,210 L282,216 L287,214" stroke="#d9783c" stroke-width="0.7" fill="none" stroke-linejoin="round"/>
<path d="M262,178 L268,174 L274,178 L278,186 L284,184 L287,188" stroke="#d9783c" stroke-width="0.7" fill="none" stroke-linejoin="round"/>
<path d="M269,136.3 L276.3,132.6 L283.6,138.1 L285.4,147.3 L280,151 L274.5,145.4 L269,143.6 L269,136.3" stroke="#d9783c" stroke-width="0.7" fill="none" stroke-linejoin="round"/>
<path d="M230.5,112.5 L232.3,103.3 L237.8,96 L247,94.2 L254.3,90.5 L265.3,92.3 L270.8,99.7 L276.3,97.8 L281.8,103.3 L280,114.3 L276.3,119.8 L269,125.3 L261.6,129 L254.3,132.6 L247,129 L239.7,125.3 L232.3,121.6 L230.5,112.5" stroke="#d9783c" stroke-width="0.7" fill="none" stroke-linejoin="round"/>
<path d="M95,178.2 L102.3,181.8 L102.3,187.3 L105.9,190 L113.2,191.8 L120.5,192.7 L127.7,191.8 L135,193.6 L138.6,189 L139.5,180 L140.5,172.7 L144.1,169.1 L149.5,168.2 L151.4,172.7 L155,174.5 L158.6,177.3 L162.3,180 L167.7,179.1 L175,180 L178.6,181.8 L182.3,185.5 L185.9,189 L189.5,191.8 L191.4,196.4 L190,205 L192,215 L190,225 L192,234" stroke="#d9783c" stroke-width="0.7" fill="none" stroke-linejoin="round"/>
<path d="M58,146 L62,150 L66,148 L69,153 L66,158 L70,162 L68,168 L63,166 L60,171 L56,168 L52,173 L50,180" stroke="#d9783c" stroke-width="0.7" fill="none" stroke-linejoin="round"/>
<path d="M42,7 L44,14 L41,20 L45,26 L43,32 L46,36" stroke="#d9783c" stroke-width="0.7" fill="none" stroke-linejoin="round"/>
<path d="M44,60 L45.6,70 L44.5,83" stroke="#d9783c" stroke-width="0.7" fill="none" stroke-linejoin="round"/>
<path d="M39,84.7 L42.3,83.1 L47.2,86.4 L52.2,84.7 L57.1,86.4 L62.1,88 L67,93 L68.7,99.6 L70.3,106.2 L72,111.1 L68.7,112.8 L70.3,117.7 L73.6,121 L73.6,126 L72,130.9 L68.7,134.2 L63.7,137.5 L58.8,140.8 L55,143.5 L52,147 L47,150 L44,156 L46,162 L43,168 L47,173 L44,180 L48,186 L45,192" stroke="#d9783c" stroke-width="0.7" fill="none" stroke-linejoin="round"/>
<path d="M49.8,6 L52.3,16.4 L57,24 L64.7,31.7 L68.5,35.5 L72.3,42 L76,46 L81.8,48.8 L87.5,51.7 L91.8,55 L94.7,62.6 L96.6,70.2 L97.6,75" stroke="#2b3f8a" stroke-width="0.7" fill="none"/>
<path d="M94.5,66.5 L98,69.5 L103.3,72.8 L112.5,76 L121.6,78.5 L130,81 L141.5,82.1 L151,82 L160,80.4 L169.9,75.5 L178.2,68.9 L184.8,61.5 L191.4,55.7 L198,49.9 L203.7,46.6 L207.9,44.1 L210,41.6 L212,34 L216.6,27.9 L222,23 L226,19 L229,13 L230.9,6" stroke="#2b3f9e" stroke-width="0.9" fill="none"/>
<text x="97.5" y="43.6" font-size="6.7" text-anchor="middle" dominant-baseline="central" fill="#1e1e28" transform="rotate(42.8 97.5 43.6)">Laptev sea continental slope</text>
<text x="87.6" y="50.7" font-size="6.9" text-anchor="middle" dominant-baseline="central" fill="#1e1e28" transform="rotate(38 87.6 50.7)">Edge of shelf</text>
<text x="56" y="63" font-size="6.3" text-anchor="middle" dominant-baseline="central" fill="#1e1e28" transform="rotate(-49 56 63)">Nord-Taimyrian</text>
<text x="62" y="70" font-size="6.3" text-anchor="middle" dominant-baseline="central" fill="#1e1e28" transform="rotate(-47 62 70)">fold belt</text>
<text x="68.1" y="95.8" font-size="6.5" text-anchor="middle" dominant-baseline="central" fill="#1e1e28" transform="rotate(-48.5 68.1 95.8)">South-Taimyrian fold belt</text>
<text x="139.6" y="47.3" font-size="8.3" text-anchor="middle" dominant-baseline="central" fill="#1e1e28" transform="rotate(54.3 139.6 47.3)">Nansen Basin</text>
<text x="156" y="39.5" font-size="9" text-anchor="middle" dominant-baseline="central" fill="#1e1e28" transform="rotate(61.5 156 39.5)">Gakkel ridge</text>
<text x="171.3" y="39.5" font-size="6.5" text-anchor="middle" dominant-baseline="central" fill="#1e1e28" transform="rotate(73.2 171.3 39.5)">Amundsen Basin</text>
<text x="187.5" y="26.5" font-size="5.8" text-anchor="middle" dominant-baseline="central" fill="#1e1e28" transform="rotate(-48.3 187.5 26.5)">transform faults</text>
<text x="237" y="27.9" font-size="8.5" text-anchor="middle" dominant-baseline="central" fill="#1e1e28" transform="rotate(-56.3 237 27.9)">Nord trough</text>
<text x="218.8" y="66" font-size="7.3" text-anchor="middle" dominant-baseline="central" fill="#1e1e28" transform="rotate(74.6 218.8 66)">Anisinsky trough</text>
<text x="262.8" y="60.5" font-size="7.2" text-anchor="middle" dominant-baseline="central" fill="#1e1e28" transform="rotate(46.8 262.8 60.5)">Novosibirsk trough</text>
<text x="258.2" y="69.7" font-size="6.7" text-anchor="middle" dominant-baseline="central" fill="#1e1e28" transform="rotate(41.4 258.2 69.7)">Faddeevskoe heave</text>
<text x="272.7" y="36.5" font-size="6" text-anchor="middle" dominant-baseline="central" fill="#1e1e28" transform="rotate(-18 272.7 36.5)">De Longa</text>
<text x="276" y="42.5" font-size="5.5" text-anchor="middle" dominant-baseline="central" fill="#1e1e28" transform="rotate(-18 276 42.5)">heave</text>
<text x="144" y="78.5" font-size="6" text-anchor="middle" dominant-baseline="central" fill="#1e1e28" transform="rotate(5.4 144 78.5)">100 m isobath</text>
<text x="145" y="86.4" font-size="6.5" text-anchor="middle" dominant-baseline="central" fill="#1e1e28" transform="rotate(5.3 145 86.4)">Nord-Laptev trough</text>
<text x="106" y="114.5" font-size="7" text-anchor="middle" dominant-baseline="central" fill="#1e1e28" transform="rotate(84 106 114.5)">West-Laptev trough</text>
<text x="159.1" y="113.3" font-size="6.9" text-anchor="middle" dominant-baseline="central" fill="#1e1e28" transform="rotate(49.4 159.1 113.3)">Central-Laptev</text>
<text x="153.6" y="119.6" font-size="6.9" text-anchor="middle" dominant-baseline="central" fill="#1e1e28" transform="rotate(54 153.6 119.6)">highs</text>
<text x="139.7" y="119.1" font-size="5.5" text-anchor="middle" dominant-baseline="central" fill="#1e1e28" transform="rotate(33.5 139.7 119.1)">Minin wall</text>
<text x="126.3" y="136.4" font-size="6.5" text-anchor="middle" dominant-baseline="central" fill="#1e1e28" transform="rotate(56 126.3 136.4)">Trofimovskoe heave</text>
<text x="139.1" y="133.8" font-size="6.5" text-anchor="middle" dominant-baseline="central" fill="#1e1e28" transform="rotate(49.7 139.1 133.8)">Ust-Lena trough</text>
<text x="124.3" y="156" font-size="6.3" text-anchor="middle" dominant-baseline="central" fill="#1e1e28" transform="rotate(62 124.3 156)">West-Lena trough</text>
<text x="103.9" y="156" font-size="6.6" text-anchor="middle" dominant-baseline="central" fill="#1e1e28" transform="rotate(49.6 103.9 156)">South-Laptev trough</text>
<text x="132.3" y="186.7" font-size="6.5" text-anchor="middle" dominant-baseline="central" fill="#1e1e28" transform="rotate(23.6 132.3 186.7)">Lena-Taimyrian zone of marginal highs</text>
<text x="59.9" y="187.9" font-size="6.6" text-anchor="middle" dominant-baseline="central" fill="#1e1e28" transform="rotate(74 59.9 187.9)">Anabaro-Khatangskaya</text>
<text x="50.5" y="189.2" font-size="6.8" text-anchor="middle" dominant-baseline="central" fill="#1e1e28" transform="rotate(77 50.5 189.2)">saddle</text>
<text x="107.2" y="208.2" font-size="7.3" text-anchor="middle" dominant-baseline="central" fill="#1e1e28" transform="rotate(22 107.2 208.2)">Lena-Anabarsky</text>
<text x="103.7" y="214.6" font-size="7" text-anchor="middle" dominant-baseline="central" fill="#1e1e28" transform="rotate(21 103.7 214.6)">trough</text>
<text x="195.2" y="90.7" font-size="6.5" text-anchor="middle" dominant-baseline="central" fill="#1e1e28" transform="rotate(75 195.2 90.7)">East-Laptev horst</text>
<text x="261" y="107.5" font-size="7.8" text-anchor="middle" dominant-baseline="central" fill="#1e1e28" transform="rotate(-7.8 261 107.5)">Kotel’nichesky</text>
<text x="262.8" y="115.5" font-size="7.8" text-anchor="middle" dominant-baseline="central" fill="#1e1e28" transform="rotate(-8 262.8 115.5)">massif</text>
<text x="198.2" y="142.6" font-size="6.7" text-anchor="middle" dominant-baseline="central" fill="#1e1e28" transform="rotate(-39.6 198.2 142.6)">East-Laptev</text>
<text x="203.1" y="147.5" font-size="6.5" text-anchor="middle" dominant-baseline="central" fill="#1e1e28" transform="rotate(-45 203.1 147.5)">horst</text>
<text x="237" y="135" font-size="6.5" text-anchor="middle" dominant-baseline="central" fill="#1e1e28" transform="rotate(28.6 237 135)">Bel’kovsky trough</text>
<text x="252.8" y="158.6" font-size="6.5" text-anchor="middle" dominant-baseline="central" fill="#1e1e28" transform="rotate(39 252.8 158.6)">Stolbovsky trough</text>
<text x="238.5" y="158.7" font-size="7" text-anchor="middle" dominant-baseline="central" fill="#1e1e28" transform="rotate(31.6 238.5 158.7)">Stolbovsky horst</text>
<text x="241" y="171" font-size="6.3" text-anchor="middle" dominant-baseline="central" fill="#1e1e28" transform="rotate(21 241 171)">Svyatonossky trough</text>
<text x="205.9" y="198.5" font-size="6.5" text-anchor="middle" dominant-baseline="central" fill="#1e1e28" transform="rotate(79.2 205.9 198.5)">Omoloisky trough</text>
<text x="223.5" y="212.4" font-size="5.5" text-anchor="middle" dominant-baseline="central" fill="#1e1e28" transform="rotate(64.3 223.5 212.4)">Ust-Jansky trough</text>
<text x="236.8" y="207.3" font-size="6.5" text-anchor="middle" dominant-baseline="central" fill="#1e1e28" transform="rotate(46 236.8 207.3)">Ust-Jansky horst</text>
<text x="243.1" y="198.5" font-size="6.5" text-anchor="middle" dominant-baseline="central" fill="#1e1e28" transform="rotate(51.3 243.1 198.5)">Chondonsky trough</text>
<text x="258.3" y="197.9" font-size="6.5" text-anchor="middle" dominant-baseline="central" fill="#1e1e28" transform="rotate(35.2 258.3 197.9)">Berelehskiy horst</text>
<text x="156.4" y="146.2" font-size="15" fill="#111">b</text>
<text x="205.8" y="106.2" font-size="17" fill="#111">c</text>
<path d="M235.8,57.3 L229.2,57.3 L203.2,96" stroke="#e8281c" stroke-width="1.3" fill="none"/>
<path d="M203.2,96 L168.5,144" stroke="#e8281c" stroke-width="1.3" fill="none" stroke-dasharray="1.3,1.3"/>
</g>
<rect x="39.5" y="7.5" width="247" height="226" fill="none" stroke="#222" stroke-width="1"/>
<path fill="#d4f2e4" d="M318.0,32.0 L458.0,32.0 L458.0,49.0 L452.0,48.0 L445.0,49.0 L438.0,48.5 L430.0,52.5 L318.0,52.0 Z" />
<path fill="#d4f2e4" d="M458.0,32.0 L544.0,32.0 L544.0,37.0 L535.0,37.5 L525.0,36.0 L515.0,36.5 L505.0,37.0 L498.0,36.5 L490.0,37.0 L482.0,36.5 L478.0,38.0 L474.0,40.5 L470.0,42.0 L466.0,41.0 L463.0,39.0 L460.0,37.0 Z" />
<path fill="#7ec87d" d="M318.0,46.5 L330.0,46.5 L338.0,47.0 L342.0,48.5 L346.0,47.0 L352.0,44.5 L356.0,43.8 L360.0,43.3 L364.0,43.8 L368.0,45.0 L374.0,47.5 L378.0,49.5 L382.0,50.5 L390.0,51.5 L400.0,52.0 L410.0,51.5 L420.0,50.0 L430.0,49.0 L433.0,50.0 L433.0,58.0 L428.0,64.0 L420.0,66.0 L410.0,67.0 L400.0,67.5 L390.0,66.5 L385.0,64.0 L382.0,61.0 L378.0,58.5 L374.0,56.5 L368.0,54.0 L364.0,52.5 L360.0,52.0 L356.0,52.5 L352.0,53.5 L346.0,55.5 L342.0,56.5 L338.0,55.5 L330.0,55.0 L318.0,55.0 Z" />
<path fill="#a9dba6" d="M318.0,46.5 L330.0,46.5 L338.0,47.0 L342.0,48.5 L346.0,47.0 L352.0,44.5 L356.0,43.8 L360.0,43.3 L364.0,43.8 L368.0,45.0 L374.0,47.5 L378.0,49.5 L382.0,50.5 L390.0,51.5 L400.0,52.0 L410.0,51.5 L420.0,50.0 L430.0,49.0 L433.0,50.0 L433.0,53.0 L430.0,52.0 L420.0,53.0 L410.0,54.5 L400.0,55.0 L390.0,54.0 L382.0,53.0 L378.0,52.0 L374.0,50.0 L368.0,47.5 L364.0,46.3 L360.0,45.8 L356.0,46.3 L352.0,47.0 L346.0,49.5 L342.0,51.0 L338.0,49.5 L330.0,49.0 L318.0,49.0 Z" />
<path fill="#f6e7a0" d="M318.0,55.0 L330.0,55.0 L338.0,55.5 L342.0,56.5 L346.0,55.5 L352.0,53.5 L356.0,52.5 L360.0,52.0 L364.0,52.5 L368.0,54.0 L374.0,56.5 L378.0,58.5 L382.0,61.0 L384.0,64.0 L386.0,68.0 L386.0,74.0 L384.0,71.0 L382.0,68.0 L378.0,65.0 L374.0,62.5 L368.0,59.5 L364.0,58.0 L360.0,57.5 L356.0,58.2 L352.0,59.5 L346.0,61.5 L342.0,63.0 L338.0,62.5 L330.0,62.0 L318.0,62.0 Z" />
<path fill="#ebbf95" d="M318.0,62.0 L330.0,62.0 L338.0,62.5 L342.0,63.0 L346.0,61.5 L352.0,59.5 L356.0,58.2 L360.0,57.5 L364.0,58.0 L368.0,59.5 L374.0,62.5 L378.0,65.0 L382.0,68.0 L384.0,71.0 L386.0,74.0 L386.0,78.0 L384.0,77.5 L382.0,77.0 L378.0,76.0 L374.5,75.0 L373.0,70.0 L371.0,65.5 L368.0,62.0 L364.0,60.0 L360.0,59.0 L356.0,60.5 L352.0,63.0 L350.0,65.0 L346.0,69.0 L344.0,72.0 L342.0,73.0 L338.0,71.0 L330.0,71.0 L318.0,71.0 Z" />
<path fill="#26a9b8" d="M318.0,71.0 L330.0,71.0 L338.0,71.0 L342.0,73.0 L344.0,72.0 L346.0,69.0 L350.0,65.0 L352.0,63.0 L356.0,60.5 L360.0,59.0 L364.0,60.0 L368.0,62.0 L371.0,65.5 L373.0,70.0 L374.5,75.0 L378.0,76.0 L382.0,77.0 L384.0,77.5 L386.0,78.0 L386.0,78.0 L384.0,77.5 L382.0,77.0 L378.0,76.0 L375.0,75.0 L372.0,73.0 L369.0,75.0 L366.0,72.5 L363.0,75.0 L360.0,72.5 L357.0,74.5 L354.0,72.0 L351.0,74.0 L348.0,71.0 L345.0,73.0 L342.0,72.0 L338.0,71.0 L330.0,71.0 L318.0,71.0 Z" />
<path fill="#8cc63f" d="M319.0,71.0 L330.0,71.0 L340.0,70.0 L341.5,70.0 L341.5,84.0 L340.0,85.0 L336.0,86.0 L332.0,88.0 L328.0,89.0 L324.0,90.0 L319.0,91.0 Z" />
<path fill="#ffffff" d="M340.0,95.0 L342.5,59.5 L345.5,66.0 L347.0,75.0 L346.0,95.0 Z" />
<path fill="#f5a43c" d="M318.0,32.0 L346.0,32.0 L342.4,36.3 L335.0,37.7 L324.8,37.0 L318.2,34.8 Z" />
<path fill="#f5a43c" d="M340.0,32.0 L376.0,32.0 L376.0,34.0 L360.0,34.0 L340.0,34.0 Z" />
<path fill="#f5a43c" d="M371.5,32.0 L458.5,32.0 L457.0,35.0 L452.0,37.5 L440.0,38.5 L425.0,39.5 L415.0,40.0 L405.0,40.5 L395.0,40.0 L385.0,39.0 L378.0,37.0 Z" />
<path d="M319.5,32 L319.5,92" stroke="#f08c8c" stroke-width="1.6" fill="none"/>
<path d="M327.7,33 L327.7,88" stroke="#f2a0a0" stroke-width="0.8" fill="none" opacity="0.9"/>
<path d="M339.4,33 L339.4,84" stroke="#f2a0a0" stroke-width="0.8" fill="none" opacity="0.9"/>
<path d="M344.6,33 L344.6,60" stroke="#f2a0a0" stroke-width="0.8" fill="none" opacity="0.9"/>
<path d="M349.7,33 L349.7,72" stroke="#f2a0a0" stroke-width="0.8" fill="none" opacity="0.9"/>
<path d="M357.8,33 L357.8,70" stroke="#f2a0a0" stroke-width="0.8" fill="none" opacity="0.9"/>
<path d="M363.8,33 L363.8,70" stroke="#f2a0a0" stroke-width="0.8" fill="none" opacity="0.9"/>
<path d="M368.7,33 L368.7,72" stroke="#f2a0a0" stroke-width="0.8" fill="none" opacity="0.9"/>
<path d="M374.6,33 L374.6,73" stroke="#f2a0a0" stroke-width="0.8" fill="none" opacity="0.9"/>
<path d="M381.6,33 L381.6,75" stroke="#f2a0a0" stroke-width="0.8" fill="none" opacity="0.9"/>
<path d="M388.5,33 L388.5,76" stroke="#f2a0a0" stroke-width="0.8" fill="none" opacity="0.9"/>
<path d="M395,36 L395,60" stroke="#f2a0a0" stroke-width="0.8" fill="none" opacity="0.9"/>
<path d="M402,36 L402,62" stroke="#f2a0a0" stroke-width="0.8" fill="none" opacity="0.9"/>
<path d="M410,36 L410,64" stroke="#f2a0a0" stroke-width="0.8" fill="none" opacity="0.9"/>
<path d="M418,36 L418,65" stroke="#f2a0a0" stroke-width="0.8" fill="none" opacity="0.9"/>
<path d="M424,36 L424,66" stroke="#f2a0a0" stroke-width="0.8" fill="none" opacity="0.9"/>
<path d="M449.5,33 L449.5,65" stroke="#f2a0a0" stroke-width="0.8" fill="none" opacity="0.9"/>
<path d="M456.6,33 L456.6,60" stroke="#f2a0a0" stroke-width="0.8" fill="none" opacity="0.9"/>
<path d="M461,33 L461,52" stroke="#f2a0a0" stroke-width="0.8" fill="none" opacity="0.9"/>
<path d="M463.2,33 L463.2,45" stroke="#f2a0a0" stroke-width="0.8" fill="none" opacity="0.9"/>
<path d="M480.8,33 L480.8,50" stroke="#f2a0a0" stroke-width="0.8" fill="none" opacity="0.9"/>
<path d="M498.4,33 L498.4,45" stroke="#f2a0a0" stroke-width="0.8" fill="none" opacity="0.9"/>
<path d="M516,33 L516,40" stroke="#f2a0a0" stroke-width="0.8" fill="none" opacity="0.9"/>
<path d="M540,33 L540,60" stroke="#f2a0a0" stroke-width="0.8" fill="none" opacity="0.9"/>
<path d="M319.0,92.5 L324.0,91.5 L328.0,90.5 L332.0,89.5 L336.0,87.5 L340.0,86.5" fill="none" stroke="#fbd0d0" stroke-width="3" stroke-linecap="round" stroke-linejoin="round"/>
<path d="M345.0,75.0 L348.0,73.0 L351.0,76.0 L354.0,74.0 L357.0,77.0 L360.0,75.0 L363.0,78.0 L366.0,75.0 L369.0,78.0 L372.0,76.0 L376.0,78.0 L380.0,80.0 L384.0,81.0 L386.0,82.0 L388.0,74.0 L390.0,69.0 L400.0,70.0 L410.0,69.5 L420.0,68.5 L428.0,66.5 L433.0,60.5" fill="none" stroke="#fbd0d0" stroke-width="3" stroke-linecap="round" stroke-linejoin="round"/>
<path d="M319.0,91.0 L324.0,90.0 L328.0,89.0 L332.0,88.0 L336.0,86.0 L340.0,85.0" fill="none" stroke="#f28a8a" stroke-width="1.2" stroke-linecap="round" stroke-linejoin="round"/>
<path d="M345.0,73.5 L348.0,71.5 L351.0,74.5 L354.0,72.5 L357.0,75.5 L360.0,73.5 L363.0,76.5 L366.0,73.5 L369.0,76.5 L372.0,74.5 L376.0,76.5 L380.0,78.5 L384.0,79.5 L386.0,80.5 L388.0,72.0 L390.0,67.0 L400.0,68.0 L410.0,67.5 L420.0,66.5 L428.0,64.5 L433.0,58.5" fill="none" stroke="#f28a8a" stroke-width="1.2" stroke-linecap="round" stroke-linejoin="round"/>
<rect x="317" y="29.6" width="227.7" height="3" fill="#111"/>
<rect x="317" y="27.6" width="227.7" height="2.2" fill="#fff"/>
<rect x="317.00" y="27.6" width="7.90" height="4.2" fill="#f03a12"/>
<rect x="328.83" y="27.6" width="8.10" height="4.2" fill="#f03a12"/>
<rect x="340.86" y="27.6" width="8.10" height="4.2" fill="#f03a12"/>
<rect x="352.89" y="27.6" width="8.10" height="4.2" fill="#f03a12"/>
<rect x="364.92" y="27.6" width="8.10" height="4.2" fill="#f03a12"/>
<rect x="376.95" y="27.6" width="8.10" height="4.2" fill="#f03a12"/>
<rect x="388.98" y="27.6" width="8.10" height="4.2" fill="#f03a12"/>
<rect x="401.01" y="27.6" width="8.10" height="4.2" fill="#f03a12"/>
<rect x="413.04" y="27.6" width="8.10" height="4.2" fill="#f03a12"/>
<rect x="425.07" y="27.6" width="8.10" height="4.2" fill="#f03a12"/>
<rect x="437.10" y="27.6" width="8.10" height="4.2" fill="#f03a12"/>
<rect x="449.13" y="27.6" width="8.10" height="4.2" fill="#f03a12"/>
<rect x="461.16" y="27.6" width="8.10" height="4.2" fill="#f03a12"/>
<rect x="473.19" y="27.6" width="8.10" height="4.2" fill="#f03a12"/>
<rect x="485.22" y="27.6" width="8.10" height="4.2" fill="#f03a12"/>
<rect x="497.25" y="27.6" width="8.10" height="4.2" fill="#f03a12"/>
<rect x="509.28" y="27.6" width="8.10" height="4.2" fill="#f03a12"/>
<rect x="521.31" y="27.6" width="8.10" height="4.2" fill="#f03a12"/>
<rect x="533.34" y="27.6" width="8.10" height="4.2" fill="#f03a12"/>
<path d="M317.5,32 L317.5,110.5 L544.5,110.5 L544.5,27.6" stroke="#999" stroke-width="1" fill="none"/>
<path fill="#f5a43c" d="M349.0,136.5 L543.0,136.5 L543.0,140.4 L535.0,139.5 L525.0,138.8 L515.0,138.5 L507.0,138.5 L500.0,139.2 L486.0,140.7 L475.0,143.0 L465.0,145.0 L458.0,148.0 L452.0,149.3 L445.0,148.5 L430.0,147.0 L415.0,146.0 L400.0,145.0 L385.0,143.8 L370.0,142.8 L358.0,142.0 L350.0,141.0 Z" />
<path fill="#d4f2e4" d="M321.0,136.5 L324.0,136.5 L330.4,140.3 L336.8,145.4 L342.0,150.5 L347.0,154.4 L347.0,172.0 L343.2,170.0 L340.0,164.0 L336.0,157.0 L330.0,148.0 L325.0,141.0 L321.0,138.5 Z" />
<path fill="#f5a43c" d="M322.7,136.5 L347.0,136.5 L347.0,154.4 L342.0,150.5 L336.8,145.4 L330.4,140.3 Z" />
<path fill="#d4f2e4" d="M349.0,141.0 L350.0,141.0 L358.0,142.0 L370.0,142.8 L385.0,143.8 L400.0,145.0 L415.0,146.0 L430.0,147.0 L445.0,148.5 L452.0,149.3 L458.0,148.0 L465.0,145.0 L475.0,143.0 L486.0,140.7 L500.0,139.2 L507.0,138.5 L515.0,138.5 L525.0,138.8 L535.0,139.5 L543.0,140.4 L543.0,150.0 L538.0,152.0 L532.0,149.0 L526.0,149.0 L518.0,152.0 L508.0,154.0 L498.0,156.0 L493.0,156.0 L492.0,185.0 L480.0,178.0 L470.0,174.0 L460.0,171.5 L450.0,170.0 L430.0,166.5 L410.0,162.0 L392.5,158.0 L392.5,166.0 L380.0,165.0 L365.0,160.0 L357.0,155.0 L349.0,145.0 Z" />
<path fill="#7ec87d" d="M392.5,158.0 L410.0,162.0 L430.0,166.5 L450.0,170.0 L460.0,171.5 L470.0,174.0 L480.0,178.0 L492.0,185.0 L490.0,189.0 L480.0,183.0 L470.0,181.5 L460.0,184.0 L450.0,185.6 L440.0,184.0 L430.0,181.0 L420.0,177.0 L400.0,172.0 L392.5,170.6 Z" />
<path fill="#dcb3d2" d="M392.5,170.6 L400.0,172.0 L420.0,177.0 L430.0,181.0 L440.0,184.0 L450.0,185.6 L460.0,184.0 L470.0,181.5 L480.0,183.0 L490.0,189.0 L492.0,195.0 L490.0,205.0 L486.0,208.0 L482.6,199.0 L478.0,200.0 L470.0,203.0 L464.0,205.0 L462.0,212.0 L459.4,207.0 L455.0,211.5 L451.7,211.3 L443.0,207.0 L430.4,200.6 L413.3,194.2 L400.0,188.0 L392.5,183.5 Z" />
<path fill="#e6b987" d="M463.8,211.0 L470.0,205.0 L478.0,201.0 L482.6,200.0 L482.6,215.8 L465.5,231.0 L463.8,226.0 Z" />
<path d="M465.5,231.0 L482.6,215.8" fill="none" stroke="#e8305a" stroke-width="1.6" stroke-linecap="round" stroke-linejoin="round"/>
<rect x="344.5" y="135.5" width="5" height="40.5" fill="#f08a8a"/>
<path d="M328,141 L328,157" stroke="#f2a0a0" stroke-width="0.8" fill="none"/>
<path d="M334.6,148 L334.6,166" stroke="#f2a0a0" stroke-width="0.8" fill="none"/>
<path d="M428.7,142 L428.7,196" stroke="#f2a0a0" stroke-width="0.8" fill="none"/>
<path d="M447.8,146 L447.8,205" stroke="#f2a0a0" stroke-width="0.8" fill="none"/>
<path d="M461.9,143 L461.9,208" stroke="#f2a0a0" stroke-width="0.8" fill="none"/>
<path d="M467,143 L467,205" stroke="#f2a0a0" stroke-width="0.8" fill="none"/>
<path d="M480.9,142 L480.9,200" stroke="#f2a0a0" stroke-width="0.8" fill="none"/>
<path d="M483.5,142 L483.5,200" stroke="#f2a0a0" stroke-width="0.8" fill="none"/>
<path d="M487.3,141 L487.3,208" stroke="#f2a0a0" stroke-width="0.8" fill="none"/>
<path d="M489.9,141 L489.9,200" stroke="#f2a0a0" stroke-width="0.8" fill="none"/>
<path d="M507.8,139 L507.8,148" stroke="#f2a0a0" stroke-width="0.8" fill="none"/>
<path d="M520,139 L520,146" stroke="#f2a0a0" stroke-width="0.8" fill="none"/>
<path d="M320.5,134.6 L543.5,134.6 L543.5,235 L320.5,235 Z" stroke="#aaa" stroke-width="1" fill="none"/>
<text x="291.5" y="14.7" font-size="17" text-anchor="start" fill="#1a1a1a">b</text>
<text x="339.7" y="12.9" font-size="7.6" text-anchor="middle" fill="#1a1a1a">Central-Laptev</text>
<text x="340.5" y="20.6" font-size="7.6" text-anchor="middle" fill="#1a1a1a">highs</text>
<text x="426.7" y="15.5" font-size="7.6" text-anchor="middle" fill="#1a1a1a">Omoloiskiy trough</text>
<text x="508.9" y="13.3" font-size="7.6" text-anchor="middle" fill="#1a1a1a">East-Laptev</text>
<text x="508.3" y="21.0" font-size="7.6" text-anchor="middle" fill="#1a1a1a">horst</text>
<text x="317.1" y="25.8" font-size="6.8" text-anchor="start" fill="#1a1a1a">SW</text>
<text x="535.6" y="25.6" font-size="7.2" text-anchor="start" fill="#1a1a1a">NE</text>
<text x="373.2" y="26.2" font-size="8.6" text-anchor="start" fill="#e8401c" font-weight="bold">Permafrost</text>
<text x="435.5" y="26.2" font-size="8.6" text-anchor="start" fill="#111" font-weight="bold">Hydrates</text>
<text x="315" y="30.9" font-size="7.5" text-anchor="end" fill="#1a1a1a">0</text>
<text x="315" y="39.14" font-size="7.5" text-anchor="end" fill="#1a1a1a">1</text>
<text x="315" y="47.38" font-size="7.5" text-anchor="end" fill="#1a1a1a">2</text>
<text x="315" y="55.620000000000005" font-size="7.5" text-anchor="end" fill="#1a1a1a">3</text>
<text x="315" y="63.86" font-size="7.5" text-anchor="end" fill="#1a1a1a">4</text>
<text x="315" y="72.10000000000001" font-size="7.5" text-anchor="end" fill="#1a1a1a">5</text>
<text x="315" y="80.34" font-size="7.5" text-anchor="end" fill="#1a1a1a">6</text>
<text x="315" y="88.58" font-size="7.5" text-anchor="end" fill="#1a1a1a">7</text>
<text x="315" y="96.82000000000001" font-size="7.5" text-anchor="end" fill="#1a1a1a">8</text>
<text x="315" y="105.06" font-size="7.5" text-anchor="end" fill="#1a1a1a">9</text>
<text x="315" y="113.30000000000001" font-size="7.5" text-anchor="end" fill="#1a1a1a">10</text>
<text x="305.6" y="67.7" font-size="8.3" text-anchor="middle" fill="#1a1a1a" transform="rotate(-90 305.6 67.7)">Depth, km.</text>
<text x="333.4" y="37.3" font-size="6.5" text-anchor="start" fill="#1a1a1a">P</text>
<text x="396" y="38.4" font-size="6.5" text-anchor="start" fill="#1a1a1a">P</text>
<text x="387" y="50.5" font-size="6.5" text-anchor="start" fill="#1a1a1a">K<tspan font-size="5.2" dy="1.6">2</tspan><tspan dy="-1.6"></tspan></text>
<text x="390.3" y="60.3" font-size="6.5" text-anchor="start" fill="#1a1a1a">C<tspan font-size="5.2" dy="1.6">2</tspan><tspan dy="-1.6">-K</tspan><tspan font-size="5.2" dy="1.6">1</tspan></text>
<text x="353.9" y="55.2" font-size="6.5" text-anchor="start" fill="#1a1a1a">D<tspan font-size="5.2" dy="1.6">2</tspan><tspan dy="-1.6">-C</tspan><tspan font-size="5.2" dy="1.6">1</tspan></text>
<text x="358.8" y="66.3" font-size="6.5" text-anchor="start" fill="#1a1a1a">C</text>
<text x="325" y="70.8" font-size="6.5" text-anchor="start" fill="#1a1a1a">O-D<tspan font-size="5.2" dy="1.6">2</tspan><tspan dy="-1.6"></tspan></text>
<text x="322.6" y="81.8" font-size="6.5" text-anchor="start" fill="#1a1a1a">PR<tspan font-size="5.2" dy="1.6">2</tspan><tspan dy="-1.6">-C</tspan></text>
<text x="349.4" y="81.5" font-size="6.5" text-anchor="start" fill="#1a1a1a">AR-PR<tspan font-size="5.2" dy="1.6">1</tspan><tspan dy="-1.6"></tspan></text>
<text x="384.5" y="79.5" font-size="6.5" text-anchor="start" fill="#1a1a1a">AR-PR<tspan font-size="5.2" dy="1.6">1</tspan><tspan dy="-1.6"></tspan></text>
<text x="438.5" y="63.3" font-size="6.5" text-anchor="start" fill="#1a1a1a">P<tspan font-size="5.2" dy="1.6">2</tspan><tspan dy="-1.6">-K</tspan><tspan font-size="5.2" dy="1.6">1</tspan></text>
<text x="464.3" y="55.9" font-size="7.2" text-anchor="middle" fill="#1a1a1a" transform="rotate(-90 464.3 55.9)">fault</text>
<text x="527.4" y="38.5" font-size="6.5" text-anchor="start" fill="#1a1a1a">K<tspan font-size="5.2" dy="1.6">2</tspan><tspan dy="-1.6"></tspan></text>
<text x="293.3" y="137.8" font-size="18" text-anchor="start" fill="#1a1a1a">c</text>
<text x="344" y="121.8" font-size="7.6" text-anchor="middle" fill="#1a1a1a">Bel’kovsky</text>
<text x="345" y="129.3" font-size="7.6" text-anchor="middle" fill="#1a1a1a">trough</text>
<text x="437.7" y="124.4" font-size="7.6" text-anchor="middle" fill="#1a1a1a">Anisinsky trough</text>
<text x="520.4" y="120.6" font-size="7.6" text-anchor="middle" fill="#1a1a1a">Kotel’nichesky</text>
<text x="518.9" y="128.3" font-size="7.6" text-anchor="middle" fill="#1a1a1a">massif</text>
<text x="319" y="131.3" font-size="7.2" text-anchor="start" fill="#1a1a1a">SW</text>
<text x="537.8" y="131.6" font-size="7.2" text-anchor="start" fill="#1a1a1a">NE</text>
<text x="317.5" y="138.29999999999998" font-size="7.5" text-anchor="end" fill="#1a1a1a">0</text>
<text x="317.5" y="146.6" font-size="7.5" text-anchor="end" fill="#1a1a1a">1</text>
<text x="317.5" y="154.89999999999998" font-size="7.5" text-anchor="end" fill="#1a1a1a">2</text>
<text x="317.5" y="163.2" font-size="7.5" text-anchor="end" fill="#1a1a1a">3</text>
<text x="317.5" y="171.5" font-size="7.5" text-anchor="end" fill="#1a1a1a">4</text>
<text x="317.5" y="179.79999999999998" font-size="7.5" text-anchor="end" fill="#1a1a1a">5</text>
<text x="317.5" y="188.1" font-size="7.5" text-anchor="end" fill="#1a1a1a">6</text>
<text x="317.5" y="196.39999999999998" font-size="7.5" text-anchor="end" fill="#1a1a1a">7</text>
<text x="317.5" y="204.7" font-size="7.5" text-anchor="end" fill="#1a1a1a">8</text>
<text x="317.5" y="213.0" font-size="7.5" text-anchor="end" fill="#1a1a1a">9</text>
<text x="317.5" y="221.29999999999998" font-size="7.5" text-anchor="end" fill="#1a1a1a">10</text>
<text x="317.5" y="229.6" font-size="7.5" text-anchor="end" fill="#1a1a1a">11</text>
<text x="317.5" y="237.89999999999998" font-size="7.5" text-anchor="end" fill="#1a1a1a">12</text>
<text x="306.1" y="178.8" font-size="8.4" text-anchor="middle" fill="#1a1a1a" transform="rotate(-90 306.1 178.8)">Depth, m.</text>
<text x="326" y="136.6" font-size="5.8" text-anchor="start" fill="#1a1a1a">N-Q</text>
<text x="513.3" y="137.7" font-size="5.8" text-anchor="start" fill="#1a1a1a">N-Q</text>
<text x="339.3" y="144.6" font-size="6.5" text-anchor="start" fill="#1a1a1a">P</text>
<text x="453.8" y="144.3" font-size="6.5" text-anchor="start" fill="#1a1a1a">P</text>
<text x="537.5" y="143.2" font-size="6.5" text-anchor="start" fill="#1a1a1a">P</text>
<text x="339.4" y="157.8" font-size="6.5" text-anchor="start" fill="#1a1a1a">K<tspan font-size="5.2" dy="1.6">2</tspan><tspan dy="-1.6"></tspan></text>
<text x="432.6" y="163.6" font-size="6.5" text-anchor="start" fill="#1a1a1a">K<tspan font-size="5.2" dy="1.6">2</tspan><tspan dy="-1.6"></tspan></text>
<text x="536.2" y="147.6" font-size="6.5" text-anchor="start" fill="#1a1a1a">K<tspan font-size="5.2" dy="1.6">2</tspan><tspan dy="-1.6"></tspan></text>
<text x="357.3" y="162.6" font-size="6.5" text-anchor="start" fill="#1a1a1a">Pz-K<tspan font-size="5.2" dy="1.6">1</tspan><tspan dy="-1.6"></tspan></text>
<text x="515.9" y="154.3" font-size="6.5" text-anchor="start" fill="#1a1a1a">Pz-K<tspan font-size="5.2" dy="1.6">1</tspan><tspan dy="-1.6"></tspan></text>
<text x="414.6" y="174.5" font-size="6.5" text-anchor="start" fill="#1a1a1a">C<tspan font-size="5.2" dy="1.6">2</tspan><tspan dy="-1.6">-K</tspan><tspan font-size="5.2" dy="1.6">1</tspan></text>
<text x="465.5" y="194.2" font-size="6.5" text-anchor="start" fill="#1a1a1a">D<tspan font-size="5.2" dy="1.6">3</tspan><tspan dy="-1.6">-C</tspan><tspan font-size="5.2" dy="1.6">1</tspan></text>
<text x="465.5" y="217.6" font-size="6.5" text-anchor="start" fill="#1a1a1a">Pz<tspan font-size="5.2" dy="1.6">2-3</tspan><tspan dy="-1.6"></tspan></text>
<text x="472.4" y="235.2" font-size="6.5" text-anchor="start" fill="#1a1a1a">AR-PR<tspan font-size="5.2" dy="1.6">1</tspan><tspan dy="-1.6"></tspan></text>
<text x="352.4" y="188.7" font-size="7.5" text-anchor="middle" fill="#1a1a1a" transform="rotate(-90 352.4 188.7)">fault</text>
<text x="491.5" y="185.5" font-size="6" text-anchor="start" fill="#1a1a1a">?</text>
<text x="451.8" y="209.5" font-size="6" text-anchor="start" fill="#1a1a1a">?</text>
<text x="484.8" y="211.5" font-size="6" text-anchor="start" fill="#1a1a1a">?</text>
<text x="159.5" y="266.6" font-size="11" text-anchor="middle" fill="#1a1a1a">Longitude, <tspan font-size="6" dy="-4.5">o</tspan><tspan dy="4.5">E</tspan></text>
<text x="15.8" y="129" font-size="11" text-anchor="middle" fill="#1a1a1a" transform="rotate(-90 15.8 129)">Latitude, <tspan font-size="6" dy="-4.5">o</tspan><tspan dy="4.5">N</tspan></text>
<g font-size="11" fill="#111">
<text x="27" y="14" font-size="18">a</text>
<text x="36" y="44.8" text-anchor="end">78</text>
<text x="36" y="102.8" text-anchor="end">76</text>
<text x="36" y="160.8" text-anchor="end">74</text>
<text x="36" y="218.8" text-anchor="end">72</text>
<g text-anchor="middle">
<text x="39" y="248.7">112</text>
<text x="74.4" y="248.7">116</text>
<text x="109.8" y="248.7">120</text>
<text x="145.1" y="248.7">124</text>
<text x="180.5" y="248.7">128</text>
<text x="215.9" y="248.7">132</text>
<text x="251.3" y="248.7">136</text>
<text x="286.7" y="248.7">140</text>
</g>
</g>
</svg>
</body></html>
